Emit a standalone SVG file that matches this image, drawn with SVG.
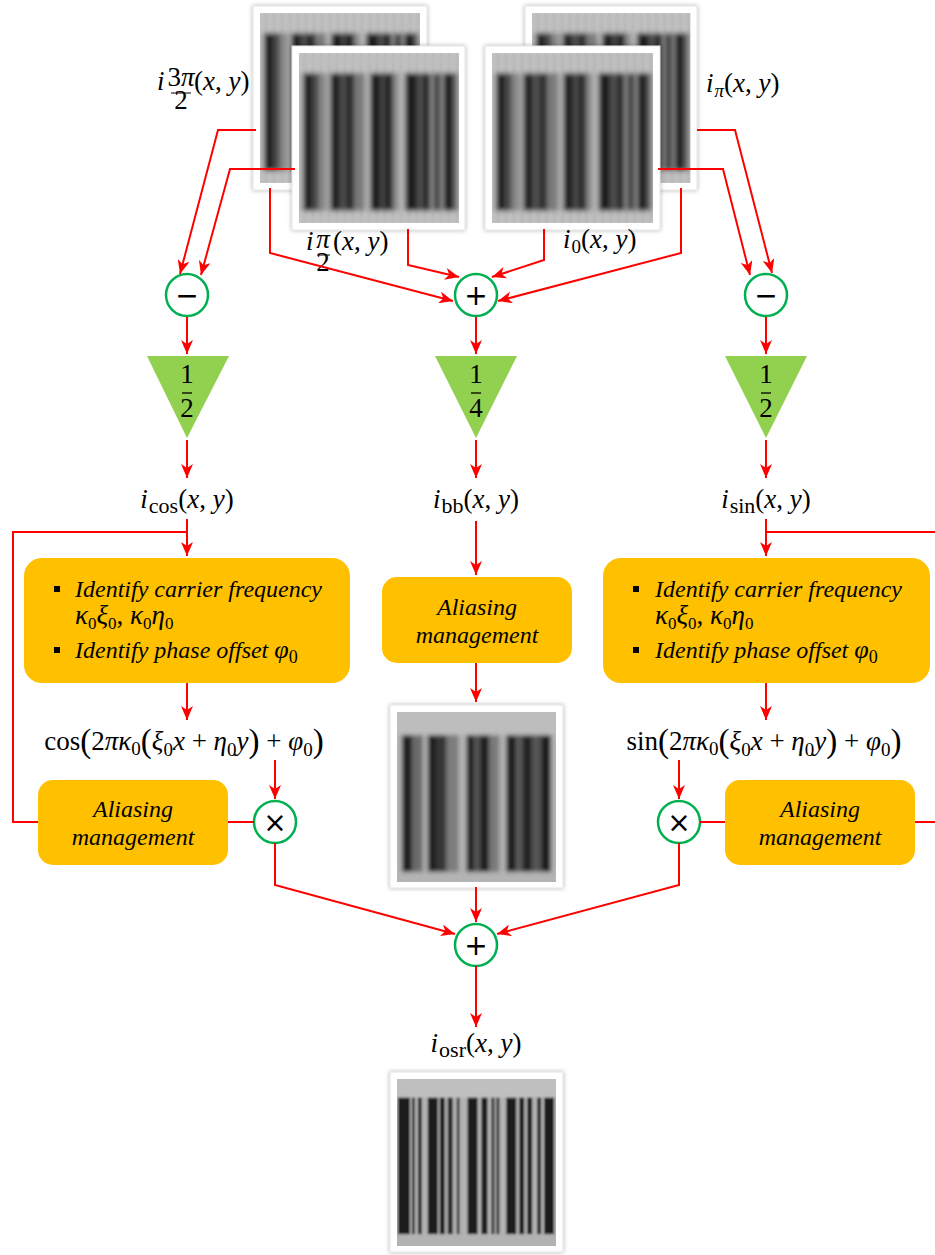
<svg xmlns="http://www.w3.org/2000/svg" xmlns:xlink="http://www.w3.org/1999/xlink" width="935" height="1255" viewBox="0 0 935 1255">
<style>
.m{font-family:"Liberation Serif","DejaVu Serif",serif;font-size:27px;fill:#000}
.it{font-style:italic}
.bx{font-family:"Liberation Serif","DejaVu Serif",serif;font-style:italic;font-size:24px;fill:#000}
.wire{stroke:#FF0000;stroke-width:2;fill:none}
.op{fill:#fff;stroke:#00B050;stroke-width:2.5}
.sym{font-family:"DejaVu Sans",sans-serif;font-size:28px;fill:#000}
.box{fill:#FFC000}
.tri{fill:#92D050}
.frame{fill:#fff;stroke:#e4e4e4;stroke-width:1}
</style>
<defs>
<marker id="ah" markerUnits="userSpaceOnUse" markerWidth="14" markerHeight="12" refX="14" refY="6" orient="auto">
<path d="M0,0 L14,6 L0,12 L4,6 Z" fill="#FF0000"/>
</marker>
<filter id="shadow" x="-10%" y="-10%" width="120%" height="120%">
<feDropShadow dx="0" dy="0" stdDeviation="2" flood-color="#000" flood-opacity="0.3"/>
</filter>
<filter id="blur2" x="-5%" y="-5%" width="110%" height="110%"><feGaussianBlur stdDeviation="2.6"/></filter>
<filter id="blur1" x="-5%" y="-5%" width="110%" height="110%"><feGaussianBlur stdDeviation="1.9"/></filter>
<filter id="blur05" x="-5%" y="-5%" width="110%" height="110%"><feGaussianBlur stdDeviation="1.3"/></filter>
<pattern id="stripes" patternUnits="userSpaceOnUse" width="8" height="10">
<rect x="0" y="0" width="4" height="10" fill="#d2d2d2"/>
<rect x="4" y="0" width="4" height="10" fill="#a6a6a6"/>
</pattern>
<clipPath id="clipA"><rect x="0" y="0" width="160" height="170"/></clipPath>
<g id="lowres">
<g clip-path="url(#clipA)">
<g filter="url(#blur2)">
<rect x="-4" y="-4" width="168" height="178" fill="#bababa"/>
<rect x="-4" y="-4" width="168" height="24" fill="url(#stripes)"/>
<rect x="-4" y="158" width="168" height="16" fill="url(#stripes)"/>
<g transform="translate(0,20)">
<rect x="4" width="9" height="138" fill="#1e1e1e"/>
<rect x="13" width="7" height="138" fill="#4a4a4a"/>
<rect x="20" width="8" height="138" fill="#8a8a8a"/>
<rect x="31" width="10" height="138" fill="#202020"/>
<rect x="41" width="6" height="138" fill="#505050"/>
<rect x="47" width="8" height="138" fill="#252525"/>
<rect x="55" width="11" height="138" fill="#7a7a7a"/>
<rect x="71" width="10" height="138" fill="#1e1e1e"/>
<rect x="81" width="5" height="138" fill="#454545"/>
<rect x="86" width="8" height="138" fill="#222"/>
<rect x="94" width="6" height="138" fill="#8c8c8c"/>
<rect x="106" width="12" height="138" fill="#1e1e1e"/>
<rect x="118" width="6" height="138" fill="#4f4f4f"/>
<rect x="124" width="8" height="138" fill="#262626"/>
<rect x="134" width="8" height="138" fill="#3a3a3a"/>
<rect x="144" width="10" height="138" fill="#1e1e1e"/>
<rect x="154" width="5" height="138" fill="#666"/>
</g>
</g>
</g>
</g>
<g id="bbimg">
<g clip-path="url(#clipA)">
<g filter="url(#blur1)">
<rect x="-4" y="-4" width="168" height="178" fill="#b4b4b4"/>
<rect x="-4" y="-4" width="168" height="27" fill="#bdbdbd"/>
<g transform="translate(0,23)">
<rect x="5" width="10" height="137" fill="#1c1c1c"/>
<rect x="15" width="11" height="137" fill="#6a6a6a"/>
<rect x="31" width="9" height="137" fill="#1e1e1e"/>
<rect x="40" width="10" height="137" fill="#353535"/>
<rect x="50" width="12" height="137" fill="#7d7d7d"/>
<rect x="70" width="8" height="137" fill="#1e1e1e"/>
<rect x="78" width="5" height="137" fill="#555"/>
<rect x="83" width="10" height="137" fill="#1e1e1e"/>
<rect x="93" width="10" height="137" fill="#7a7a7a"/>
<rect x="110" width="10" height="137" fill="#1e1e1e"/>
<rect x="120" width="6" height="137" fill="#5a5a5a"/>
<rect x="126" width="10" height="137" fill="#222"/>
<rect x="136" width="9" height="137" fill="#555"/>
<rect x="145" width="10" height="137" fill="#1e1e1e"/>
</g>
</g>
</g>
</g>
<g id="osrimg">
<g clip-path="url(#clipA)">
<g filter="url(#blur05)">
<rect x="-4" y="-4" width="168" height="178" fill="#b2b2b2"/>
<rect x="-4" y="-4" width="168" height="23" fill="#bfbfbf"/>
<g transform="translate(0,19)" fill="#1a1a1a">
<rect x="1" width="12" height="139"/>
<rect x="15" width="3" height="139" fill="#333"/>
<rect x="21" width="4" height="139" fill="#333"/>
<rect x="31" width="10" height="139"/>
<rect x="43" width="5" height="139"/>
<rect x="51" width="5" height="139" fill="#2a2a2a"/>
<rect x="60" width="3" height="139" fill="#444"/>
<rect x="71" width="10" height="139"/>
<rect x="85" width="6" height="139"/>
<rect x="95" width="3" height="139" fill="#333"/>
<rect x="100" width="3" height="139" fill="#333"/>
<rect x="110" width="10" height="139"/>
<rect x="123" width="5" height="139"/>
<rect x="131" width="5" height="139"/>
<rect x="141" width="4" height="139" fill="#2a2a2a"/>
<rect x="148" width="10" height="139"/>
</g>
</g>
</g>
</g>
</defs>

<rect x="0" y="0" width="935" height="1255" fill="#fff"/>

<g id="img-i3pi2">
<rect class="frame" x="253" y="6" width="174" height="184" filter="url(#shadow)"/>
<use xlink:href="#lowres" href="#lowres" transform="translate(260,13)"/>
</g>
<g id="img-ipi">
<rect class="frame" x="525" y="6" width="172" height="184" filter="url(#shadow)"/>
<use xlink:href="#lowres" href="#lowres" transform="translate(532,13) scale(0.99,1)"/>
</g>
<g id="img-ipi2">
<rect class="frame" x="292" y="46" width="173" height="184" filter="url(#shadow)"/>
<use xlink:href="#lowres" href="#lowres" transform="translate(299,53)"/>
</g>
<g id="img-i0">
<rect class="frame" x="485" y="46" width="175" height="184" filter="url(#shadow)"/>
<use xlink:href="#lowres" href="#lowres" transform="translate(492,53) scale(1.006,1)"/>
</g>

<g id="lbl-i3pi2">
<text class="m it" x="157" y="90">i</text>
<text class="m" x="181" y="86" font-size="17" text-anchor="middle">3<tspan class="it">π</tspan></text>
<line x1="171" y1="93" x2="191" y2="93" stroke="#000" stroke-width="1"/>
<text class="m" x="181" y="109" font-size="16" text-anchor="middle">2</text>
<text class="m" x="194" y="90">(<tspan class="it">x</tspan>, <tspan class="it">y</tspan>)</text>
</g>
<g id="lbl-ipi2">
<text class="m it" x="306" y="250">i</text>
<text class="m it" x="323" y="248" font-size="17" text-anchor="middle">π</text>
<line x1="317" y1="255" x2="330" y2="255" stroke="#000" stroke-width="1"/>
<text class="m" x="323" y="271" font-size="15" text-anchor="middle">2</text>
<text class="m" x="333" y="250">(<tspan class="it">x</tspan>, <tspan class="it">y</tspan>)</text>
</g>
<g id="lbl-i0">
<text class="m" x="563" y="248"><tspan class="it">i</tspan><tspan font-size="19" dx="1" dy="5">0</tspan><tspan dy="-5">(</tspan><tspan class="it">x</tspan>, <tspan class="it">y</tspan>)</text>
</g>
<g id="lbl-ipi">
<text class="m" x="706" y="92"><tspan class="it">i</tspan><tspan class="it" font-size="19" dx="1" dy="5">π</tspan><tspan dy="-5">(</tspan><tspan class="it">x</tspan>, <tspan class="it">y</tspan>)</text>
</g>

<g id="op-minus-left">
<circle class="op" cx="187" cy="295" r="21"/>
<text class="sym" x="187" y="305" text-anchor="middle">−</text>
</g>
<g id="op-plus-top">
<circle class="op" cx="476" cy="295" r="21"/>
<text class="sym" x="476" y="305" text-anchor="middle">+</text>
</g>
<g id="op-minus-right">
<circle class="op" cx="766" cy="295" r="21"/>
<text class="sym" x="766" y="305" text-anchor="middle">−</text>
</g>

<g id="gain-left">
<polygon class="tri" points="147,356 229,356 187,438"/>
<text class="m" x="187" y="383" font-size="23" text-anchor="middle">1</text>
<line x1="182" y1="393" x2="192" y2="393" stroke="#000" stroke-width="1.3"/>
<text class="m" x="187" y="417" font-size="23" text-anchor="middle">2</text>
</g>
<g id="gain-mid">
<polygon class="tri" points="435,356 517,356 476,438"/>
<text class="m" x="476" y="383" font-size="23" text-anchor="middle">1</text>
<line x1="471" y1="393" x2="481" y2="393" stroke="#000" stroke-width="1.3"/>
<text class="m" x="476" y="417" font-size="23" text-anchor="middle">4</text>
</g>
<g id="gain-right">
<polygon class="tri" points="725,356 807,356 766,438"/>
<text class="m" x="766" y="383" font-size="23" text-anchor="middle">1</text>
<line x1="761" y1="393" x2="771" y2="393" stroke="#000" stroke-width="1.3"/>
<text class="m" x="766" y="417" font-size="23" text-anchor="middle">2</text>
</g>

<g id="lbl-icos">
<text class="m" x="187" y="508" text-anchor="middle"><tspan class="it">i</tspan><tspan font-size="22" dx="1" dy="5">cos</tspan><tspan dy="-5">(</tspan><tspan class="it">x</tspan>, <tspan class="it">y</tspan>)</text>
</g>
<g id="lbl-ibb">
<text class="m" x="476" y="508" text-anchor="middle"><tspan class="it">i</tspan><tspan font-size="22" dx="1" dy="5">bb</tspan><tspan dy="-5">(</tspan><tspan class="it">x</tspan>, <tspan class="it">y</tspan>)</text>
</g>
<g id="lbl-isin">
<text class="m" x="766" y="508" text-anchor="middle"><tspan class="it">i</tspan><tspan font-size="22" dx="1" dy="5">sin</tspan><tspan dy="-5">(</tspan><tspan class="it">x</tspan>, <tspan class="it">y</tspan>)</text>
</g>

<g id="box-identify-left">
<rect class="box" x="24" y="558" width="326" height="125" rx="18"/>
<rect x="54" y="586" width="6" height="6" fill="#000"/>
<text class="bx" x="75" y="597">Identify carrier frequency</text>
<text class="m it" x="75" y="624" font-size="25">κ<tspan font-style="normal" font-size="17" dy="5">0</tspan><tspan dy="-5">ξ</tspan><tspan font-style="normal" font-size="17" dy="5">0</tspan><tspan font-style="normal" dy="-5">, </tspan>κ<tspan font-style="normal" font-size="17" dy="5">0</tspan><tspan dy="-5">η</tspan><tspan font-style="normal" font-size="17" dy="5">0</tspan></text>
<rect x="54" y="647" width="6" height="6" fill="#000"/>
<text class="bx" x="75" y="658">Identify phase offset <tspan font-size="26">φ</tspan><tspan font-style="normal" font-size="18" dy="5">0</tspan></text>
</g>
<g id="box-identify-right">
<rect class="box" x="603" y="558" width="327" height="125" rx="18"/>
<rect x="633" y="586" width="6" height="6" fill="#000"/>
<text class="bx" x="655" y="597">Identify carrier frequency</text>
<text class="m it" x="655" y="624" font-size="25">κ<tspan font-style="normal" font-size="17" dy="5">0</tspan><tspan dy="-5">ξ</tspan><tspan font-style="normal" font-size="17" dy="5">0</tspan><tspan font-style="normal" dy="-5">, </tspan>κ<tspan font-style="normal" font-size="17" dy="5">0</tspan><tspan dy="-5">η</tspan><tspan font-style="normal" font-size="17" dy="5">0</tspan></text>
<rect x="633" y="647" width="6" height="6" fill="#000"/>
<text class="bx" x="655" y="658">Identify phase offset <tspan font-size="26">φ</tspan><tspan font-style="normal" font-size="18" dy="5">0</tspan></text>
</g>

<g id="box-alias-mid">
<rect class="box" x="382" y="577" width="190" height="86" rx="15"/>
<text class="bx" x="477" y="615" text-anchor="middle">Aliasing</text>
<text class="bx" x="477" y="643" text-anchor="middle">management</text>
</g>
<g id="box-alias-left">
<rect class="box" x="38" y="780" width="190" height="85" rx="15"/>
<text class="bx" x="133" y="817" text-anchor="middle">Aliasing</text>
<text class="bx" x="133" y="845" text-anchor="middle">management</text>
</g>
<g id="box-alias-right">
<rect class="box" x="725" y="780" width="190" height="85" rx="15"/>
<text class="bx" x="820" y="817" text-anchor="middle">Aliasing</text>
<text class="bx" x="820" y="845" text-anchor="middle">management</text>
</g>

<g id="lbl-cos">
<text class="m" x="184" y="750" text-anchor="middle">cos<tspan font-size="33" dy="2">(</tspan><tspan dy="-2">2</tspan><tspan class="it">πκ</tspan><tspan font-size="19" dy="5">0</tspan><tspan font-size="33" dy="-3">(</tspan><tspan class="it" dy="-2">ξ</tspan><tspan font-size="19" dy="6">0</tspan><tspan class="it" dy="-6">x</tspan> + <tspan class="it">η</tspan><tspan font-size="19" dy="6">0</tspan><tspan class="it" dy="-6">y</tspan><tspan font-size="33" dy="2">)</tspan><tspan dy="-2"> + </tspan><tspan class="it">φ</tspan><tspan font-size="19" dy="6">0</tspan><tspan font-size="33" dy="-4">)</tspan></text>
</g>
<g id="lbl-sin">
<text class="m" x="764" y="750" text-anchor="middle">sin<tspan font-size="33" dy="2">(</tspan><tspan dy="-2">2</tspan><tspan class="it">πκ</tspan><tspan font-size="19" dy="5">0</tspan><tspan font-size="33" dy="-3">(</tspan><tspan class="it" dy="-2">ξ</tspan><tspan font-size="19" dy="6">0</tspan><tspan class="it" dy="-6">x</tspan> + <tspan class="it">η</tspan><tspan font-size="19" dy="6">0</tspan><tspan class="it" dy="-6">y</tspan><tspan font-size="33" dy="2">)</tspan><tspan dy="-2"> + </tspan><tspan class="it">φ</tspan><tspan font-size="19" dy="6">0</tspan><tspan font-size="33" dy="-4">)</tspan></text>
</g>

<g id="img-ibb">
<rect class="frame" x="390" y="705" width="173" height="183" filter="url(#shadow)"/>
<use xlink:href="#bbimg" href="#bbimg" transform="translate(397,712) scale(0.994,1)"/>
</g>

<g id="op-times-left">
<circle class="op" cx="275" cy="822" r="21"/>
<text class="sym" x="275" y="832" text-anchor="middle">×</text>
</g>
<g id="op-times-right">
<circle class="op" cx="679" cy="822" r="21"/>
<text class="sym" x="679" y="832" text-anchor="middle">×</text>
</g>
<g id="op-plus-bottom">
<circle class="op" cx="476" cy="945" r="21"/>
<text class="sym" x="476" y="955" text-anchor="middle">+</text>
</g>

<g id="lbl-iosr">
<text class="m" x="476" y="1052" text-anchor="middle"><tspan class="it">i</tspan><tspan font-size="22" dx="1" dy="5">osr</tspan><tspan dy="-5">(</tspan><tspan class="it">x</tspan>, <tspan class="it">y</tspan>)</text>
</g>
<g id="img-iosr">
<rect class="frame" x="390" y="1072" width="173" height="180" filter="url(#shadow)"/>
<use xlink:href="#osrimg" href="#osrimg" transform="translate(397,1079) scale(0.994,0.982)"/>
</g>

<g id="connectors">
<path class="wire" d="M256,130 H218 L180,274" marker-end="url(#ah)"/>
<path class="wire" d="M295,169 H230 L201,275" marker-end="url(#ah)"/>
<path class="wire" d="M270,188 V253 L453,301" marker-end="url(#ah)"/>
<path class="wire" d="M408,229 V265 L459,277" marker-end="url(#ah)"/>
<path class="wire" d="M544,229 V260 L492,277" marker-end="url(#ah)"/>
<path class="wire" d="M681,188 V253 L498,301" marker-end="url(#ah)"/>
<path class="wire" d="M697,130 H735 L772,273" marker-end="url(#ah)"/>
<path class="wire" d="M658,169 H723 L750,275" marker-end="url(#ah)"/>
<path class="wire" d="M187,317 V354" marker-end="url(#ah)"/>
<path class="wire" d="M476,317 V354" marker-end="url(#ah)"/>
<path class="wire" d="M766,317 V354" marker-end="url(#ah)"/>
<path class="wire" d="M187,440 V478" marker-end="url(#ah)"/>
<path class="wire" d="M476,440 V478" marker-end="url(#ah)"/>
<path class="wire" d="M766,440 V478" marker-end="url(#ah)"/>
<path class="wire" d="M187,519 V556" marker-end="url(#ah)"/>
<path class="wire" d="M187,532 H13 V822 H38"/>
<path class="wire" d="M766,519 V556" marker-end="url(#ah)"/>
<path class="wire" d="M766,532 H936"/>
<path class="wire" d="M476,521 V575" marker-end="url(#ah)"/>
<path class="wire" d="M187,683 V720" marker-end="url(#ah)"/>
<path class="wire" d="M766,683 V720" marker-end="url(#ah)"/>
<path class="wire" d="M476,663 V702" marker-end="url(#ah)"/>
<path class="wire" d="M275,760 V799" marker-end="url(#ah)"/>
<path class="wire" d="M679,760 V799" marker-end="url(#ah)"/>
<path class="wire" d="M228,822 H254"/>
<path class="wire" d="M700,822 H725"/>
<path class="wire" d="M915,822 H936"/>
<path class="wire" d="M275,843 V885 L455,934" marker-end="url(#ah)"/>
<path class="wire" d="M679,843 V885 L497,934" marker-end="url(#ah)"/>
<path class="wire" d="M476,887 V922" marker-end="url(#ah)"/>
<path class="wire" d="M476,966 V1027" marker-end="url(#ah)"/>
</g>
</svg>
